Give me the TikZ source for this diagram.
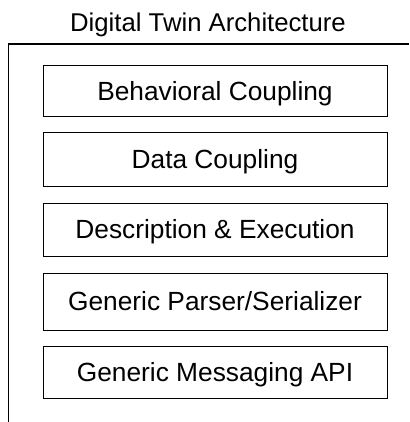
\documentclass[tikz,border=0pt]{standalone}
\usepackage{fontspec}
\setmainfont{Liberation Sans}
\begin{document}
\begin{tikzpicture}[x=1pt,y=-1pt,
  layer/.style={draw=black, line width=1pt, minimum width=344pt, inner sep=0pt,
    font=\fontsize{26.3}{31}\selectfont, text height=18.8pt, text depth=0pt},
  titletext/.style={font=\fontsize{25.7}{30}\selectfont, inner sep=0pt, anchor=base}]
\useasboundingbox (0,0) rectangle (409,422);
\node[titletext] (title) at (208,32) {Digital Twin Architecture};
\coordinate (frTR) at (409,44);
\coordinate (frTL) at (8.5,44);
\coordinate (frBL) at (8.5,422);
\draw[line width=1.2pt] (frTR) -- (frTL) -- (frBL);
\node[layer, minimum height=51pt] (b1) at (215,91.5) {Behavioral Coupling};
\node[layer, minimum height=53pt] (b2) at (215,159.5) {Data Coupling};
\node[layer, minimum height=53pt] (b3) at (215,229.5) {Description \& Execution};
\node[layer, minimum height=57pt] (b4) at (215,301.5) {Generic Parser/Serializer};
\node[layer, minimum height=52pt] (b5) at (215,372) {Generic Messaging API};
\end{tikzpicture}
\end{document}
